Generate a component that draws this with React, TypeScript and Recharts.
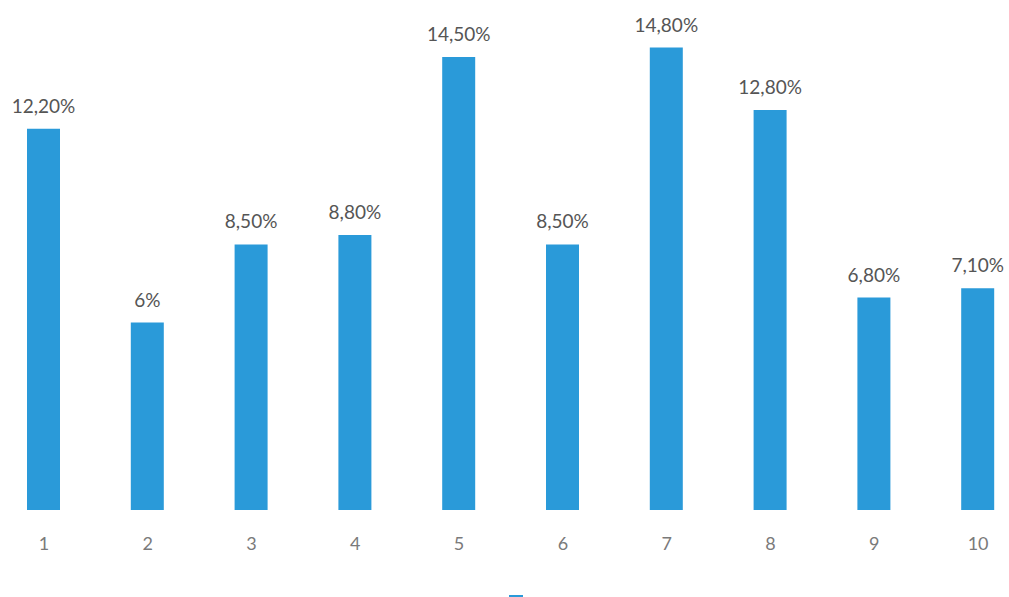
import React from "react";
import { BarChart, Bar, XAxis, YAxis, LabelList, Legend } from "recharts";

const categories = ["1", "2", "3", "4", "5", "6", "7", "8", "9", "10"];
const values = [12.2, 6, 8.5, 8.8, 14.5, 8.5, 14.8, 12.8, 6.8, 7.1];
const valueLabels = ["12,20%", "6%", "8,50%", "8,80%", "14,50%", "8,50%", "14,80%", "12,80%", "6,80%", "7,10%"];

const data = categories.map((c, i) => ({ name: c, value: values[i], label: valueLabels[i] }));

const FONT = "Lato, 'Open Sans', sans-serif";

export default function App() {
  return (
    <div style={{ position: "absolute", left: -8, top: 0, background: "#fff" }}>
      <BarChart
        width={1040}
        height={620}
        data={data}
        margin={{ top: 10, right: 2, bottom: 50, left: 0 }}
      >
        <XAxis
          dataKey="name"
          axisLine={false}
          tickLine={false}
          height={60}
          tickMargin={21}
          tick={{ fill: "#7a7a7a", fontSize: 18, fontFamily: FONT }}
        />
        <YAxis hide domain={[0, 16]} />
        <Legend
          verticalAlign="middle"
          align="center"
          iconType="square"
          iconSize={14}
          formatter={() => ""}
          wrapperStyle={{ top: 592, left: 12 }}
        />
        <Bar dataKey="value" name=" " fill="#2a9ad9" barSize={33} isAnimationActive={false}>
          <LabelList
            dataKey="label"
            position="top"
            offset={16}
            style={{ fill: "#555555", fontSize: 19, fontFamily: FONT }}
          />
        </Bar>
      </BarChart>
    </div>
  );
}
